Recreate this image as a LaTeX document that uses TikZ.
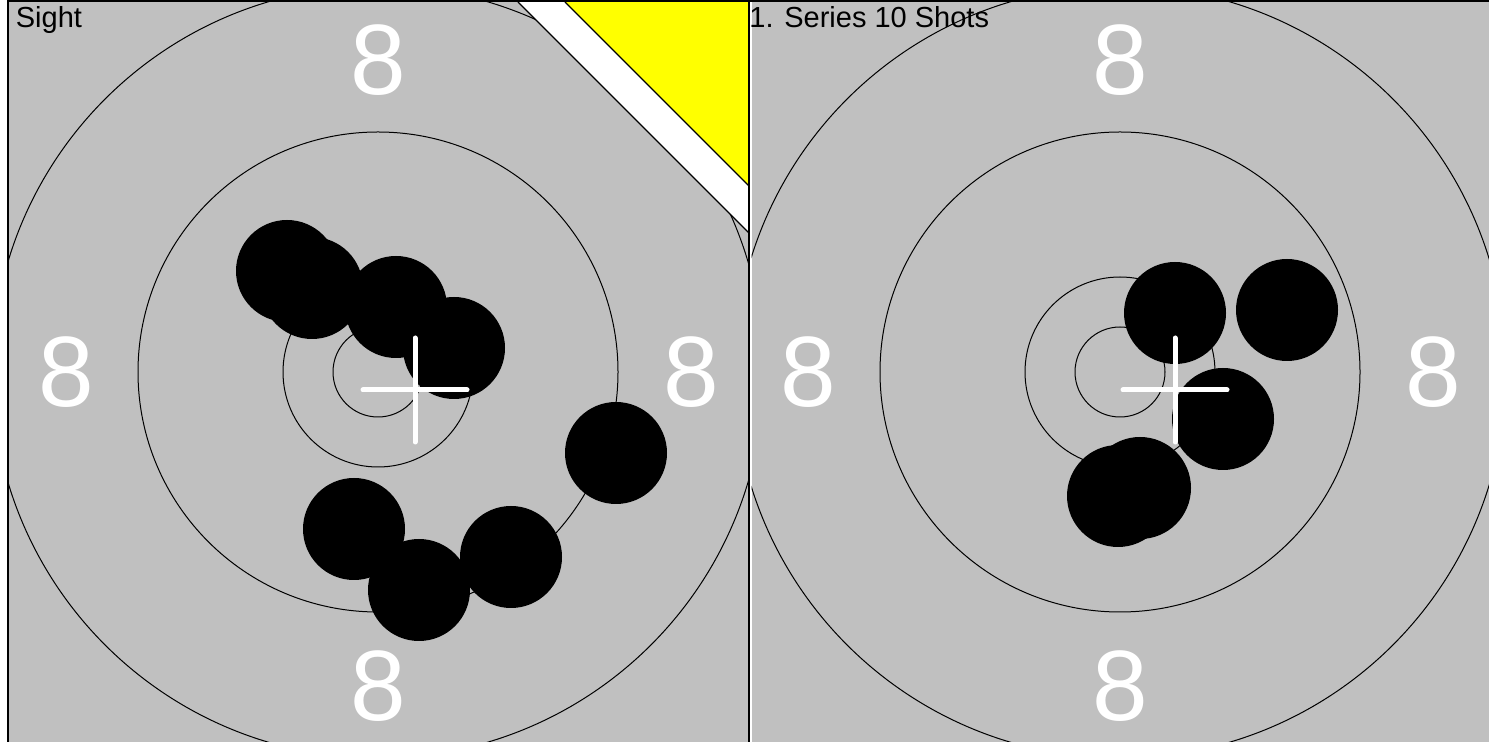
\documentclass[tikz,border=0pt]{standalone}
\usepackage{fontspec}
\setmainfont{Liberation Sans}
\usetikzlibrary{positioning}
\definecolor{face}{HTML}{C0C0C0}
\definecolor{flag}{HTML}{FFFF00}
\tikzset{
  ring/.style={draw=black, line width=0.5pt},
  shot/.style={fill=black},
  frame/.style={draw=black, line width=1pt},
  edge/.style={draw=black, line width=0.6pt},
  cross/.style={draw=white, line width=2.5pt, line cap=round},
  ringnum/.style={text=white, font=\fontsize{50}{50}\selectfont, inner sep=0pt},
  title/.style={font=\fontsize{14.5}{14.5}\selectfont, anchor=base west, inner sep=0pt}
}

\begin{document}
\begin{tikzpicture}[x=0.5pt,y=-0.5pt]
  \useasboundingbox (0,0) rectangle (1489,742);
  \fill[white] (0,0) rectangle (1489,742);

  % left target: sight
  \begin{scope}
    \clip (8,2) rectangle (749,742);
    \fill[face] (8,2) rectangle (749,742);
    \foreach \r in {45,95,240,386}
      \draw[ring] (378,372) circle[radius=\r];
    \node[ringnum] (s8n) at (378,60) {8};
    \node[ringnum] (s8s) at (378,686) {8};
    \node[ringnum] (s8w) at (66,372) {8};
    \node[ringnum] (s8e) at (691,372) {8};
    % sighter corner
    \fill[white] (518,2) -- (565,2) -- (749,186) -- (749,233) -- cycle;
    \fill[flag] (565,2) -- (749,2) -- (749,186) -- cycle;
    \draw[edge] (518,2) -- (749,233);
    \draw[edge] (565,2) -- (749,186);
    \foreach \x/\y in {287/271, 312/288, 396/307, 454/348,
                       616/453, 354/529, 419/590, 511/557}
      \fill[shot] (\x,\y) circle[radius=51];
    \draw[cross] (363,390) -- (467,390);
    \draw[cross] (415,338) -- (415,442);
  \end{scope}

  % right target: first series
  \begin{scope}
    \clip (751.5,2) rectangle (1489,742);
    \fill[face] (751.5,2) rectangle (1489,742);
    \foreach \r in {45,95,240,386}
      \draw[ring] (1120,372) circle[radius=\r];
    \node[ringnum] (r8n) at (1120,60) {8};
    \node[ringnum] (r8s) at (1120,686) {8};
    \node[ringnum] (r8w) at (808,372) {8};
    \node[ringnum] (r8e) at (1433,372) {8};
    \foreach \x/\y in {1175/313, 1287/310, 1223/419, 1118/496, 1140/488}
      \fill[shot] (\x,\y) circle[radius=51];
    \draw[cross] (1123,390) -- (1227,390);
    \draw[cross] (1175,338) -- (1175,442);
  \end{scope}

  \draw[frame] (8,742) -- (8,1.5) -- (1489,1.5);
  \draw[frame] (749,1.5) -- (749,742);

  \node[title] (sight) at (15.5,28) {Sight};
  \node[title] (series) at (749,28) {1. Series 10 Shots};
\end{tikzpicture}
\end{document}
